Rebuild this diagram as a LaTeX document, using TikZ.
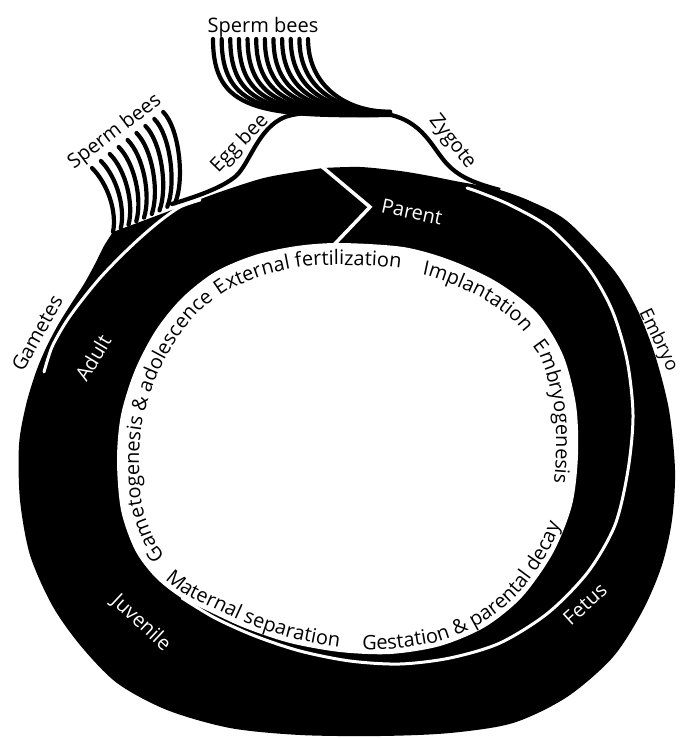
\documentclass[tikz,border=0pt]{standalone}
\usepackage{fontspec}
\setmainfont{Open Sans}
\usetikzlibrary{decorations.text}

\begin{document}
\begin{tikzpicture}[x=1pt,y=-1pt,
  lbl/.style={font=\fontsize{20}{24}\selectfont,inner sep=0pt},
  wlbl/.style={lbl,text=white},
  strand/.style={line width=4.2pt,line cap=round},
  gap/.style={white,line width=3pt,line cap=round},
  arctext/.style={decorate,decoration={text along path,text={|\fontsize{20}{24}\selectfont|#1}}}]
\fill[white] (0,0) rectangle (680,738);
\useasboundingbox (0,0) rectangle (680,738);
% body of the cycle
\fill plot[smooth] coordinates {(323,168) (290,173) (260,179) (217,193) (180,207)} -- (113,232)
  -- plot[smooth] coordinates {(113,232) (104,246) (95,264) (84,284) (71,304) (58,325) (46,348)
  (36,372) (26,405) (19,445) (20,500) (30,555) (52,605) (80,645) (117,683) (167,710) (230,728)
  (300,735) (380,736) (450,733) (513,723) (567,697) (613,657) (643,610) (662,565) (672,520)
  (675,470) (669,410) (655,355) (637,309) (613,269) (567,221) (530,201) (500,190) (477,185)
  (455,181) (430,176) (400,171) (360,167) (323,168)} -- cycle;
% hole
\fill[white] plot[smooth cycle] coordinates {(340,243) (403,247) (450,260) (497,282) (537,313)
  (563,355) (576,405) (578,455) (572,505) (553,553) (522,597) (485,627) (440,646) (390,654)
  (340,652) (290,643) (245,628) (208,611) (180,597) (155,577) (135,550) (121,510) (117,460)
  (121,415) (135,370) (156,330) (182,298) (215,272) (255,255) (297,246)};
% sperm bees
\foreach \i in {0,...,11}
  \draw[strand] ({213+8.64*\i},39) .. controls ({213+8.64*\i},{110-2.2*\i})
    and ({258+8*\i},{117-0.45*\i}) .. (390,{115-0.3*\i});
\foreach \i in {0,...,8}
  \draw[strand] ({92+8.9*\i},{168-7*\i}) .. controls ({108+8.9*\i},{184-7*\i})
    and ({117+8.5*\i},{212-4*\i}) .. ({113+7.75*\i},{232-3.6*\i});
% egg bee and zygote
\draw[strand] (172,204) .. controls (195,197) and (222,188) .. (236,176)
  .. controls (250,163) and (258,128) .. (285,117) .. controls (300,112) and (320,112) .. (340,112);
\draw[strand,line cap=butt] (370,112.5) .. controls (416,113) and (428,140) .. (442,158)
  .. controls (455,175) and (470,182) .. (500,190);
% white gaps
\draw[gap] plot[smooth] coordinates {(44,372) (52,347) (66,322) (82,300) (100,278) (120,257)
  (140,238) (160,221) (180,207) (200,200)};
\draw[gap,line width=3.5pt,line cap=butt,line join=miter] (320,165) -- (370,207) -- (328,251);
\draw[gap] plot[smooth] coordinates {(467,188) (480,192.5) (510,205) (550,228) (588,268)
  (612,310) (627,360) (633,415) (628,470) (615,525) (588,572) (548,613) (500,643) (450,658)
  (400,664) (350,661) (300,651) (255,636) (215,618) (182,598)};
% stages inside the hole
\path[arctext={Gametogenesis {\&} adolescence}] plot[smooth] coordinates {(165,556) (155,541)
  (142,505) (139,459) (143,418.5) (156,378) (175,342) (198,313) (228,290) (265,275)};
\path[arctext={External fertilization}] plot[smooth] coordinates {(220,296) (228,290) (265,275)
  (302.5,267) (341,265) (397.5,268) (440,280) (483,299)};
\path[arctext={Implantation}] plot[smooth] coordinates {(422,275) (440,280) (483,299) (519,326)
  (543,364) (554.5,409.5)};
\path[arctext={Embryogenesis}] plot[smooth] coordinates {(532,346) (543,364) (554.5,409.5)
  (556,455) (551,500) (533,543) (505,580)};
\path[arctext={Maternal separation}] plot[smooth] coordinates {(165,579) (184,594) (211,607)
  (248,624) (291.5,638) (340,647) (389,649) (438,641.5)};
\path[arctext={Gestation {\&} parental decay}] plot[smooth] coordinates {(362,649) (389,649)
  (438,641.5) (482,623) (518,594) (548.5,551) (567,504) (573,455)};
% labels
\node[lbl] (spermtop) at (263,27) {Sperm bees};
\node[lbl,rotate=37] (spermleft) at (115,132) {Sperm bees};
\node[lbl,rotate=46] (eggbee) at (240,144) {Egg bee};
\node[lbl,rotate=-52] (zygote) at (452,142) {Zygote};
\node[lbl,rotate=61] (gametes) at (37,333) {Gametes};
\node[lbl,rotate=-64,font=\fontsize{18.5}{22}\selectfont] (embryo) at (658,340) {Embryo};
\node[wlbl,rotate=59] (adult) at (93,358) {Adult};
\node[wlbl,rotate=-43] (juvenile) at (141,623) {Juvenile};
\node[wlbl,rotate=-12] (parent) at (412,212) {Parent};
\node[wlbl,rotate=42] (fetus) at (585,604) {Fetus};
\end{tikzpicture}
\end{document}
